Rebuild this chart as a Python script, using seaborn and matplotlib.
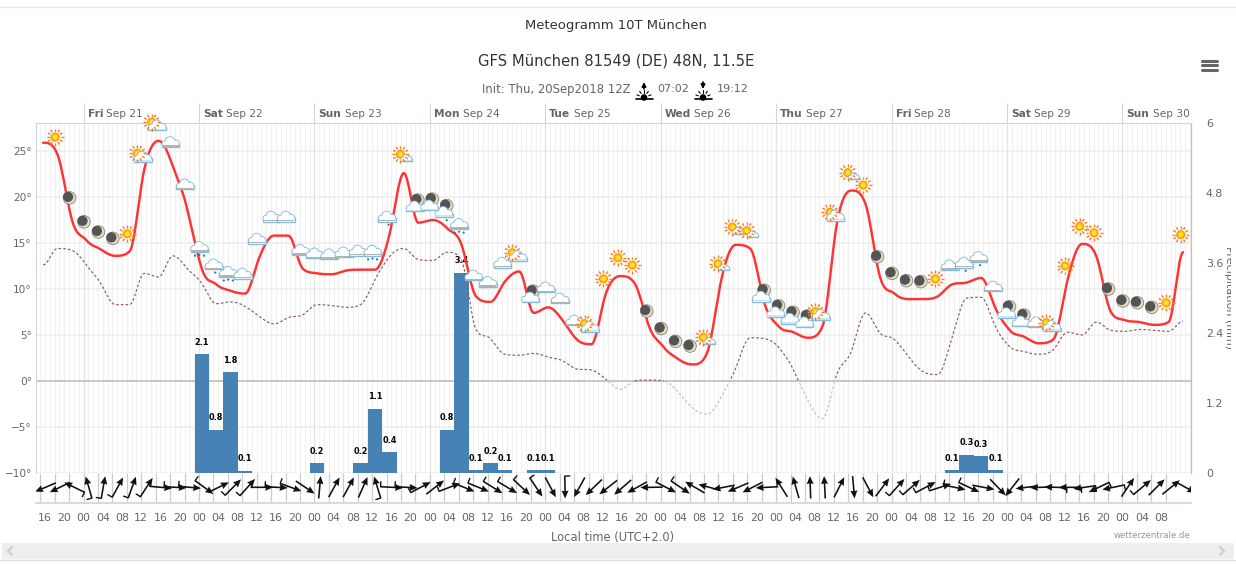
import numpy as np
import pandas as pd
import matplotlib
matplotlib.use("Agg")
import matplotlib.pyplot as plt
import seaborn as sns
from matplotlib.patches import Circle, Rectangle
from matplotlib.transforms import Bbox

temp = [25.9, 24.6, 17.5, 15.3, 14.3, 13.6, 14.1, 22.9, 26.1, 23.3,
        18.6, 12.2, 10.5, 9.8, 9.5, 13.5, 15.8, 15.8, 12.2, 11.7,
        11.6, 12.0, 12.1, 12.1, 15.9, 22.6, 17.2, 17.5, 16.6, 14.8,
        9.2, 8.6, 10.8, 11.9, 7.4, 8.0, 6.6, 4.5, 4.0, 9.5,
        11.4, 10.6, 5.9, 3.7, 2.4, 1.8, 3.0, 11.0, 14.8, 14.4,
        8.4, 5.9, 5.3, 4.7, 5.9, 17.0, 20.7, 19.2, 11.3, 9.5,
        8.9, 8.9, 9.2, 10.5, 10.7, 11.2, 7.9, 5.5, 4.8, 4.1,
        4.5, 11.0, 14.9, 13.5, 7.5, 6.6, 6.4, 6.1, 6.4, 14.0]
dew = [12.6, 14.4, 14.2, 12.6, 10.6, 8.3, 8.3, 11.7, 11.3, 13.6,
       12.2, 10.6, 8.4, 8.6, 8.1, 7.0, 6.2, 6.9, 7.2, 8.3,
       8.2, 8.0, 8.3, 11.0, 13.5, 14.4, 13.2, 13.1, 14.0, 13.1,
       5.6, 4.6, 2.9, 2.8, 3.0, 2.6, 2.2, 1.3, 1.2, 0.2,
       -0.9, 0.0, 0.1, 0.0, -1.2, -2.9, -3.6, -1.7, 1.4, 4.7,
       4.6, 3.6, 1.2, -2.1, -4.1, 0.7, 3.2, 7.4, 5.2, 4.5,
       2.6, 1.0, 0.7, 4.8, 9.0, 9.1, 5.9, 3.7, 3.2, 2.9,
       3.4, 5.3, 5.0, 6.4, 5.5, 5.4, 5.6, 5.5, 5.4, 6.5]
precip = [0, 0, 0, 0, 0, 0, 0, 0, 0, 0,
          0, 2.04, 0.74, 1.73, 0.04, 0, 0, 0, 0, 0.17,
          0, 0, 0.17, 1.10, 0.36, 0, 0, 0, 0.74, 3.43,
          0.05, 0.17, 0.05, 0, 0.05, 0.05, 0, 0, 0, 0,
          0, 0, 0, 0, 0, 0, 0, 0, 0, 0,
          0, 0, 0, 0, 0, 0, 0, 0, 0, 0,
          0, 0, 0, 0.05, 0.31, 0.29, 0.05, 0, 0, 0,
          0, 0, 0, 0, 0, 0, 0, 0, 0, 0]
precip_labels = {11: "2.1", 12: "0.8", 13: "1.8", 14: "0.1", 19: "0.2", 22: "0.2",
                 23: "1.1", 24: "0.4", 28: "0.8", 29: "3.4", 30: "0.1", 31: "0.2",
                 32: "0.1", 34: "0.1", 35: "0.1", 63: "0.1", 64: "0.3", 65: "0.3", 66: "0.1"}
# Rumbo de la flecha de viento, grados desde el norte
wind_dir = [247, 244, 296, 344, 10, 29, 20, 33, 95, 93,
            95, 126, 64, 45, 42, 90, 93, 110, 124, 5,
            29, 29, 24, 343, 93, 93, 62, 52, 69, 112,
            112, 122, 121, 133, 146, 152, 179, 209, 226, 232,
            229, 241, 269, 117, 124, 300, 285, 259, 247, 243,
            267, 328, 344, 358, 357, 27, 175, 152, 37, 42,
            49, 62, 72, 102, 115, 101, 136, 218, 263, 268,
            272, 270, 262, 244, 258, 34, 50, 45, 51, 119]
wind_barb = [0, 0, 1, 1, 1, 1, 1, 1, 1, 1,
             1, 1, 0, 1, 1, 1, 1, 1, 0, 0,
             0, 0, 0, 1, 1, 1, 1, 0, 1, 1,
             1, 1, 1, 1, 1, 0, 1, 0, 0, 0,
             0, 0, 0, 1, 1, 0, 0, 0, 0, 0,
             0, 0, 0, 0, 0, 0, 0, 0, 0, 1,
             1, 1, 1, 1, 1, 0, 0, 0, 0, 0,
             1, 1, 1, 1, 1, 0, 1, 0, 0, 0]
# s sol, m luna, c nube, r lluvia, d una gota, p sol+nube, q sol+nubecita, n luna+nube, o luna+nube+gota
icon_kinds = list("smmmmsppccrdrcccccccccrdqnnorcccpncccpsssmmmmqqqqnnnnppqsmmmmscddcnncpsssmmmmss")
icon_temp = [26.5, 19.9, 17.3, 16.2, 15.5, 16.0, 24.3, 27.7, 25.9, 21.3,
             14.5, 12.6, 11.8, 11.6, 15.4, 17.8, 17.8, 14.2, 13.8, 13.7,
             13.9, 14.1, 14.1, 17.8, 24.2, 18.9, 19.0, 18.3, 17.0, 11.4,
             10.7, 12.8, 13.5, 9.0, 10.1, 8.9, 6.5, 5.8, 11.1, 13.4,
             12.6, 7.6, 5.7, 4.3, 3.8, 4.3, 12.3, 16.3, 15.9, 9.1,
             7.4, 6.7, 6.3, 7.1, 17.9, 22.2, 21.3, 13.5, 11.7, 10.9,
             10.8, 11.1, 12.5, 12.8, 13.4, 10.2, 7.3, 6.4, 6.3, 5.9,
             12.5, 16.8, 16.1, 10.0, 8.7, 8.5, 8.0, 8.5, 15.9]
day_names = ["Fri", "Sat", "Sun", "Mon", "Tue", "Wed", "Thu", "Fri", "Sat", "Sun"]
day_dates = ["Sep 21", "Sep 22", "Sep 23", "Sep 24", "Sep 25", "Sep 26", "Sep 27", "Sep 28", "Sep 29", "Sep 30"]
temp_ticks = [-10, -5, 0, 5, 10, 15, 20, 25]
precip_ticks = [0, 1.2, 2.4, 3.6, 4.8, 6]

GREY = "#666666"
AXIS_BLUE = "#ccd6eb"
W, H = 1236, 566

sns.set_theme(style="white")
plt.rcParams["font.family"] = ["DejaVu Sans"]
plt.rcParams["axes.unicode_minus"] = True

horas = -8.4 + 3 * np.arange(len(temp))

# Spline por tramos de Bezier sin sobrepasar los valores leidos
def suavizar(xs, ys, n=12):
    xs, ys = np.asarray(xs, float), np.asarray(ys, float)
    izq, der = ys.copy(), ys.copy()
    for i in range(1, len(ys) - 1):
        a = ys[i] + (ys[i - 1] - ys[i]) * 0.4
        b = ys[i] + (ys[i + 1] - ys[i]) * 0.4
        medio = (a + b) / 2
        a, b = a + ys[i] - medio, b + ys[i] - medio
        lo, hi = min(ys[i - 1], ys[i]), max(ys[i - 1], ys[i])
        if a > hi:
            a, b = hi, 2 * ys[i] - hi
        elif a < lo:
            a, b = lo, 2 * ys[i] - lo
        lo, hi = min(ys[i + 1], ys[i]), max(ys[i + 1], ys[i])
        if b > hi:
            b, a = hi, 2 * ys[i] - hi
        elif b < lo:
            b, a = lo, 2 * ys[i] - lo
        izq[i], der[i] = a, b
    out_x, out_y = [], []
    for i in range(len(xs) - 1):
        t = np.linspace(0, 1, n, endpoint=False)
        out_y.append((1 - t)**3 * ys[i] + 3 * (1 - t)**2 * t * der[i] + 3 * (1 - t) * t**2 * izq[i + 1] + t**3 * ys[i + 1])
        out_x.append(xs[i] + (xs[i + 1] - xs[i]) * t)
    return np.r_[np.concatenate(out_x), xs[-1]], np.r_[np.concatenate(out_y), ys[-1]]

fig = plt.figure(figsize=(W / 100, H / 100), dpi=100, facecolor="white")
pos = [36 / W, (H - 473) / H, (1191 - 36) / W, 350 / H]

# Capa de fondo: rejilla y eje de temperatura
ax = fig.add_axes(pos)
xlim = ((36 - 83.5) / 4.81, (1191 - 83.5) / 4.81)
ax.set_xlim(xlim)
ax.set_ylim(-10, 28.04)
ax.grid(False)
ax.set_xticks(np.arange(-9, 231), minor=True)
ax.grid(True, which="minor", axis="x", color="#f1f1f1", lw=0.75)
ax.hlines(temp_ticks, *xlim, color="#eeeeee", lw=1.1, zorder=1)
ax.axhline(0, color="#bbbbbb", lw=1.1, zorder=2)
day_hours = 24 * np.arange(10)
ax.vlines(day_hours, -10, 28.04, color="#e2e2e2", lw=0.9, zorder=1)
ax.set_yticks(temp_ticks, [f"{t}°".replace("-", "\u2212") for t in temp_ticks])
ax.tick_params(axis="y", length=0, labelsize=7.6, labelcolor=GREY, pad=3)
ax.xaxis.tick_top()
ax.set_xticks(day_hours, [""] * 10)
ax.tick_params(axis="x", which="major", top=True, length=14.4, width=0.75, color=AXIS_BLUE, pad=0)
ax.tick_params(axis="x", which="minor", length=0)
for s in ["left", "top"]:
    ax.spines[s].set_color(AXIS_BLUE)
    ax.spines[s].set_linewidth(0.8)
ax.spines["right"].set_color("#c0c0c0")
ax.spines["right"].set_linewidth(0.9)
ax.spines["bottom"].set_visible(False)

for h, nombre, fecha in zip(day_hours, day_names, day_dates):
    t = ax.annotate(nombre, (h, 1), xycoords=("data", "axes fraction"), xytext=(2.9, 6.4),
                    textcoords="offset points", fontsize=7.7, fontweight="bold", color=GREY, va="center")
    ax.annotate(fecha, (1, 0.5), xycoords=t, xytext=(2.4, 0), textcoords="offset points",
                fontsize=7.6, color=GREY, va="center")

# Precipitacion
ax_p = ax.twinx()
sns.barplot(x=horas, y=precip, native_scale=True, color="#4682b4", saturation=1, width=1,
            linewidth=0, edgecolor="none", ax=ax_p)
for barra in ax_p.patches:
    centro = barra.get_x() + barra.get_width() / 2
    barra.set_width(3.0)
    barra.set_x(centro - 1.5)
ax_p.set_xlim(xlim)
ax_p.set_ylim(0, 6)
ax_p.set_yticks(precip_ticks, ["0", "1.2", "2.4", "3.6", "4.8", "6"])
ax_p.tick_params(axis="y", length=0, labelsize=7.9, labelcolor=GREY, pad=10.8)
ax_p.set_ylabel("")
ax_p.patch.set_visible(False)
for s in ax_p.spines.values():
    s.set_visible(False)
for k, etiqueta in precip_labels.items():
    ax_p.annotate(etiqueta, (horas[k], precip[k]), xytext=(0, 8.6), textcoords="offset points",
                  ha="center", va="center", fontsize=5.9, fontweight="bold", color="black")

# Temperatura y punto de rocio
ax_t = ax.twinx()
ax_t.set_xlim(xlim)
ax_t.set_ylim(-10, 28.04)
ax_t.patch.set_visible(False)
ax_t.set_yticks([])
for s in ax_t.spines.values():
    s.set_visible(False)

xd, yd = suavizar(horas, dew)
df_dew = pd.DataFrame({"hora": xd, "valor": yd, "sobre": yd >= 0})
df_dew["tramo"] = (df_dew["sobre"] != df_dew["sobre"].shift()).cumsum()
sns.lineplot(data=df_dew, x="hora", y="valor", hue="sobre", units="tramo", estimator=None,
             palette={True: "#8c5a5f", False: "#a9c6e0"}, lw=0.85, linestyle=(0, (2.2, 1.8)),
             legend=False, ax=ax_t)
xt, yt = suavizar(horas, temp)
sns.lineplot(x=xt, y=yt, color="#ff3333", lw=1.75, estimator=None, sort=False, ax=ax_t)
ax_t.set_xlim(xlim)
ax_t.set_ylabel("")
ax_t.set_xlabel("")
ax_t.tick_params(length=0, labelbottom=False, bottom=False)
ax_p.set_xlabel("")
ax_p.tick_params(axis="x", bottom=False, labelbottom=False)

# Panel de viento y eje de horas
ax_w = fig.add_axes([36 / W, (H - 503) / H, (1191 - 36) / W, 30 / H])
ax_w.set_xlim(xlim)
ax_w.set_ylim(503, 473)
ax_w.vlines(np.arange(-9, 226, 3), 473, 503, color="#cccccc", lw=0.9)
rumbo = np.deg2rad(wind_dir)
largo = 22.5
x_w = horas + 0.5
ax_w.quiver(x_w, np.full(len(x_w), 487.3), np.sin(rumbo) * largo, np.cos(rumbo) * largo,
            angles="uv", scale_units="dots", scale=1, units="dots", pivot="mid", width=1.6,
            headwidth=4.4, headlength=5.0, headaxislength=4.6, color="#111111", zorder=3)
for xw, b, marca in zip(x_w, rumbo, wind_barb):
    if marca:
        dx, dy = np.sin(b), -np.cos(b)
        cola_x, cola_y = -dx * largo / 2, 487.3 - dy * largo / 2
        ax_w.plot([xw + cola_x / 4.81, xw + (cola_x + dy * 5) / 4.81], [cola_y, cola_y - dx * 5],
                  color="#111111", lw=1.0, clip_on=False, zorder=3)
ticks_h = np.arange(-8, 225, 4)
ax_w.set_xticks(ticks_h, [f"{int(h % 24):02d}" for h in ticks_h])
ax_w.set_xticks(np.arange(-9, 226), minor=True)
ax_w.set_yticks([])
ax_w.tick_params(axis="x", which="both", length=1.6, width=0.7, color="#ccd6eb", direction="inout",
                 labelsize=7.9, labelcolor=GREY, pad=6.5)
for s in ["left", "right", "top"]:
    ax_w.spines[s].set_visible(False)
ax_w.spines["bottom"].set_color(AXIS_BLUE)
ax_w.patch.set_visible(False)

# Capa en pixeles para iconos y textos
ov = fig.add_axes([0, 0, 1, 1], zorder=10)
ov.set_xlim(0, W)
ov.set_ylim(H, 0)
ov.axis("off")


def circulo(x, y, r, **kw):
    ov.add_patch(Circle((x, y), r, lw=kw.pop("lw", 0), **kw))


def sol(x, y):
    for a in np.deg2rad(np.arange(0, 360, 30)):
        ov.plot([x + 5.6 * np.cos(a), x + 8.5 * np.cos(a)], [y + 5.6 * np.sin(a), y + 8.5 * np.sin(a)],
                color="#ff7a1a", lw=1.0, solid_capstyle="butt")
    circulo(x, y, 4.0, facecolor="#ffc400", edgecolor="#ff8a10", lw=0.7)
    circulo(x, y, 2.0, facecolor="#ffe23a")


def luna(x, y):
    circulo(x, y, 6.3, facecolor="#e2dcc0", edgecolor="#85857a", lw=0.6)
    circulo(x - 1.5, y - 1.0, 5.1, facecolor="#545454")


def nube(x, y, gris=False, e=1.0):
    partes = [(-5.5, 1.2, 2.9), (-0.5, -1.3, 4.5), (5.2, 0.8, 3.3)]
    bx, by, bw, bh = x - 8.8 * e, y + 1.0 * e, 17.6 * e, 3.3 * e
    for dx, dy, r in partes:
        circulo(x + dx * e, y + dy * e, r * e, facecolor="white", edgecolor="#84bcdc", lw=1.0)
    ov.add_patch(Rectangle((bx, by), bw, bh, facecolor="white", edgecolor="#84bcdc", lw=1.0))
    for dx, dy, r in partes:
        circulo(x + dx * e, y + dy * e, r * e - 0.2, facecolor="white")
    fondo = "#b4b4b0" if gris else "#cbe4f2"
    ov.add_patch(Rectangle((bx + 0.4, y + 2.5 * e), bw - 0.8, 1.7 * e, facecolor=fondo, lw=0))


def gotas(x, y, dxs):
    for dx in dxs:
        circulo(x + dx, y + 7.2 + abs(dx) * 0.2, 1.05, facecolor="#1b6ca8")


def icono(tipo, x, y):
    if tipo == "s":
        sol(x, y)
    elif tipo == "m":
        luna(x, y)
    elif tipo == "c":
        nube(x, y, gris=True)
    elif tipo == "r":
        gotas(x, y, [-4.5, 0, 4.5])
        nube(x, y, gris=True)
    elif tipo == "d":
        gotas(x, y, [1.5])
        nube(x, y, gris=True)
    elif tipo == "p":
        sol(x - 4.5, y - 4)
        nube(x + 1, y)
    elif tipo == "q":
        sol(x - 1, y - 4)
        nube(x + 5, y, e=0.62)
    elif tipo == "n":
        luna(x + 2, y - 7)
        nube(x - 1, y)
    elif tipo == "o":
        luna(x + 2, y - 7)
        gotas(x, y, [2])
        nube(x - 1, y)


for m, (tipo, valor) in enumerate(zip(icon_kinds, icon_temp)):
    px, py = ax.transData.transform((horas[m] + 2.5, valor))
    icono(tipo, px, H - py)

# Textos
ov.text(616, 25, "Meteogramm 10T München", ha="center", va="center", fontsize=9.45, color="#333333")
ov.text(616.5, 61, "GFS München 81549 (DE) 48N, 11.5E", ha="center", va="center", fontsize=10.6, color="#333333")
ov.text(482, 89.5, "Init: Thu, 20Sep2018 12Z", ha="left", va="center", fontsize=8.4, color=GREY)
ov.text(657, 89.5, "07:02", ha="left", va="center", fontsize=8.0, color=GREY)
ov.text(717, 89.5, "19:12", ha="left", va="center", fontsize=8.0, color=GREY)
ov.text(613, 537.5, "Local time (UTC+2.0)", ha="center", va="center", fontsize=8.3, color=GREY)
ov.text(1190, 535, "wetterzentrale.de", ha="right", va="center", fontsize=6.2, color="#999999")
t_prec = ov.text(1229, 298, "Precipitation (mm)", rotation=270, ha="center", va="center", fontsize=7.9, color=GREY)
t_prec.set_clip_box(Bbox([[0, 0], [1231, H]]))
t_prec.set_clip_on(True)


# Iconos de salida y puesta de sol
def amanecer(x, sube):
    ov.plot([x - 8.5, x + 8.5], [99, 99], color="black", lw=1.2)
    ov.add_patch(Circle((x, 97.5), 3.3, facecolor="black", lw=0))
    for a in np.deg2rad([20, 55, 90, 125, 160]):
        ov.plot([x + 5 * np.cos(a), x + 7.5 * np.cos(a)], [97.5 - 5 * np.sin(a), 97.5 - 7.5 * np.sin(a)], color="black", lw=0.8)
    ini, fin = (89, 82) if sube else (82, 89)
    ov.annotate("", (x, fin), (x, ini), arrowprops=dict(arrowstyle="-|>", color="black", lw=1.2, mutation_scale=6, shrinkA=0, shrinkB=0))


amanecer(644, True)
amanecer(703, False)

# Menu, borde superior y barra de desplazamiento
for y in [60.5, 65, 69.5]:
    ov.plot([1201.5, 1216.5], [y, y], color=GREY, lw=2.2, solid_capstyle="round")
ov.plot([0, W], [6.5, 6.5], color="#e6e6e6", lw=1.0)
ov.add_patch(Rectangle((2, 543), W - 4, 16, facecolor="#eeeeee", lw=0, zorder=5))
ov.plot([0, W], [559.8, 559.8], color="#dddddd", lw=1.0, zorder=5)
ov.plot([12, 8, 12], [547, 551, 555], color="#cccccc", lw=1.5, zorder=6)
ov.plot([1220, 1224, 1220], [547, 551, 555], color="#cccccc", lw=1.5, zorder=6)
ov.set_xlim(0, W)
ov.set_ylim(H, 0)

fig.savefig("out.png", dpi=100)
